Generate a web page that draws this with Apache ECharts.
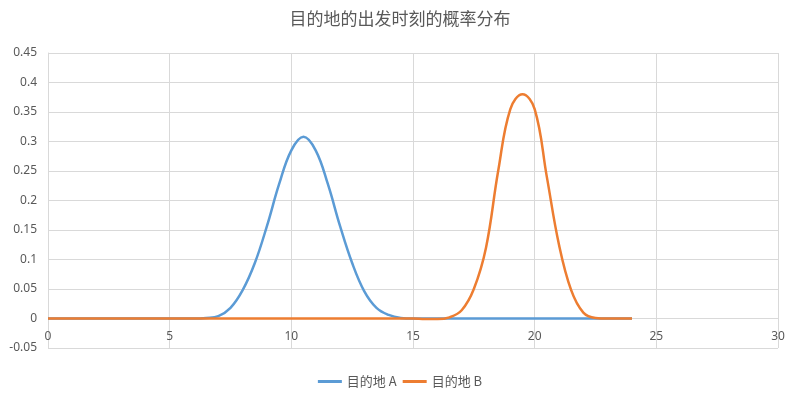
<!DOCTYPE html>
<html>
<head>
<meta charset="utf-8">
<script src="https://cdn.jsdelivr.net/npm/echarts@6/dist/echarts.min.js"></script>
<style>
  html, body { margin: 0; padding: 0; background: #fff; }
  #main { width: 800px; height: 398px; }
</style>
</head>
<body>
<div id="main"></div>
<script>
// 出发时刻 (小时)
const hours = [0, 0.5, 1, 1.5, 2, 2.5, 3, 3.5, 4, 4.5, 5, 5.5, 6, 6.5, 7, 7.5, 8, 8.5, 9, 9.5,
  10, 10.5, 11, 11.5, 12, 12.5, 13, 13.5, 14, 14.5, 15, 15.5, 16, 16.5, 17, 17.5, 18, 18.5, 19, 19.5,
  20, 20.5, 21, 21.5, 22, 22.5, 23, 23.5, 24];
// 目的地 A
const destA = [0, 0, 0, 0, 0, 0, 0, 0, 0, 0, 0, 0, 0, 0.001, 0.004, 0.018, 0.048, 0.094, 0.157, 0.228,
  0.285, 0.308, 0.285, 0.228, 0.157, 0.094, 0.046, 0.018, 0.006, 0.001, 0, 0, 0, 0, 0, 0, 0, 0, 0, 0,
  0, 0, 0, 0, 0, 0, 0, 0, 0];
// 目的地 B
const destB = [0, 0, 0, 0, 0, 0, 0, 0, 0, 0, 0, 0, 0, 0, 0, 0, 0, 0, 0, 0,
  0, 0, 0, 0, 0, 0, 0, 0, 0, 0, 0, -0.001, -0.001, 0.002, 0.014, 0.05, 0.12, 0.25, 0.355, 0.38,
  0.355, 0.24, 0.125, 0.048, 0.01, 0.001, 0, 0, 0];
const xTicks = [0, 30, 5];
const yTicks = [-0.05, 0.45, 0.05];

const pairs = (ys) => hours.map((h, i) => [h, ys[i]]);

let myChart = echarts.init(document.getElementById('main'));
myChart.setOption({
  animation: false,
  textStyle: { fontFamily: '"Noto Sans", "Noto Sans CJK SC", sans-serif' },
  title: {
    text: '目的地的出发时刻的概率分布',
    left: 'center',
    top: 5,
    textStyle: { fontSize: 17, fontWeight: 'normal', color: '#595959', fontFamily: '"Noto Sans CJK SC", sans-serif' }
  },
  legend: {
    bottom: 5,
    left: 'center',
    itemWidth: 24,
    itemHeight: 3,
    itemGap: 6,
    icon: 'rect',
    textStyle: { fontSize: 13, color: '#595959', fontFamily: '"Noto Sans CJK SC", sans-serif' },
    data: ['目的地 A', '目的地 B']
  },
  grid: { left: 48, right: 22, top: 53, bottom: 50 },
  xAxis: {
    type: 'value',
    min: xTicks[0],
    max: xTicks[1],
    interval: xTicks[2],
    position: 'bottom',
    // labels sit under the zero line, one step above the bottom
    offset: -29.5,
    axisLine: { show: false },
    axisTick: { show: false },
    axisLabel: { color: '#595959', fontSize: 12, margin: 12 },
    splitLine: { show: true, lineStyle: { color: '#d9d9d9' } }
  },
  yAxis: {
    type: 'value',
    min: yTicks[0],
    max: yTicks[1],
    interval: yTicks[2],
    axisLine: { show: true, lineStyle: { color: '#d9d9d9' } },
    axisTick: { show: false },
    axisLabel: { color: '#595959', fontSize: 12, margin: 11 },
    splitLine: { show: true, lineStyle: { color: '#d9d9d9' } }
  },
  series: [
    {
      name: '目的地 A',
      type: 'line',
      smooth: 0.4,
      showSymbol: false,
      lineStyle: { color: '#5b9bd5', width: 2.5 },
      itemStyle: { color: '#5b9bd5' },
      data: pairs(destA)
    },
    {
      name: '目的地 B',
      type: 'line',
      smooth: 0.4,
      showSymbol: false,
      lineStyle: { color: '#ed7d31', width: 2.5 },
      itemStyle: { color: '#ed7d31' },
      data: pairs(destB)
    }
  ]
});
</script>
</body>
</html>
